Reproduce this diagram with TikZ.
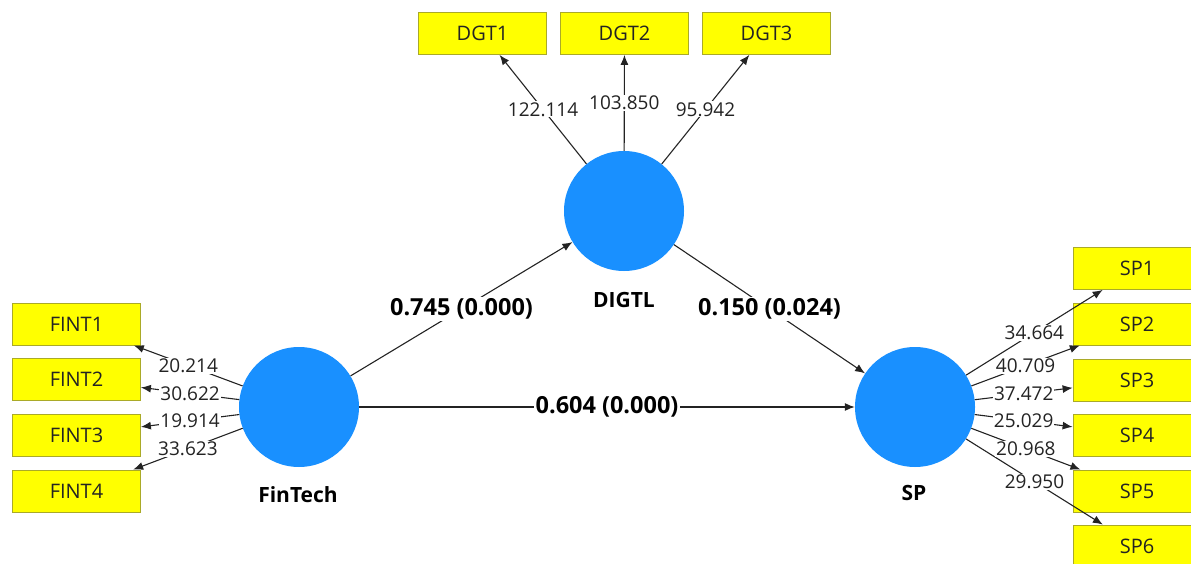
\documentclass[tikz,border=0pt]{standalone}
\usepackage{fontspec}
\setmainfont{Open Sans}
\usetikzlibrary{arrows.meta}
\definecolor{lvblue}{RGB}{25,144,255}
\definecolor{indyel}{RGB}{255,255,0}
\definecolor{indedge}{RGB}{170,170,40}
\definecolor{lntxt}{RGB}{35,35,35}
\tikzset{
  latent/.style={circle, fill=lvblue, minimum size=120pt, inner sep=0pt},
  ind/.style={rectangle, fill=indyel, draw=indedge, line width=0.8pt, minimum width=128pt, minimum height=42pt, inner sep=0pt, font=\fontsize{20}{22}\selectfont, text=lntxt},
  lvname/.style={font=\bfseries\fontsize{21}{23}\selectfont, text=black},
  conn/.style={draw=lntxt, line width=1.1pt, -{Latex[length=10pt,width=8pt]}},
  loadlab/.style={fill=white, inner sep=1pt, font=\fontsize{19}{21}\selectfont, text=lntxt},
  pathlab/.style={fill=white, inner sep=1.5pt, font=\bfseries\fontsize{23.5}{25}\selectfont, text=black}
}
\begin{document}
\begin{tikzpicture}[x=1pt,y=-1pt]
\useasboundingbox (0,0) rectangle (1191,564);
\clip (0,0) rectangle (1191,564);
% latent variables
\node[latent] (fin) at (299,407) {};
\node[latent] (dig) at (624,211) {};
\node[latent] (sp) at (915,407) {};
\node[lvname] (finl) at (298,495) {FinTech};
\node[lvname] (digl) at (624,300) {DIGTL};
\node[lvname] (spl) at (914,493) {SP};
% indicators
\node[ind] (d1) at (482.5,33.5) {DGT1};
\node[ind] (d2) at (624.5,33.5) {DGT2};
\node[ind] (d3) at (766.5,33.5) {DGT3};
\node[ind] (f1) at (76.5,324) {FINT1};
\node[ind] (f2) at (76.5,379.5) {FINT2};
\node[ind] (f3) at (76.5,435) {FINT3};
\node[ind] (f4) at (76.5,491) {FINT4};
\node[ind] (s1) at (1137,268.5) {SP1};
\node[ind] (s2) at (1137,324) {SP2};
\node[ind] (s3) at (1137,380) {SP3};
\node[ind] (s4) at (1137,435) {SP4};
\node[ind] (s5) at (1137,491) {SP5};
\node[ind] (s6) at (1137,546) {SP6};
% connectors
\foreach \a/\b in {dig/d1,dig/d2,dig/d3,fin/f1,fin/f2,fin/f3,fin/f4,sp/s1,sp/s2,sp/s3,sp/s4,sp/s5,sp/s6,fin/dig,dig/sp,fin/sp}
  \draw[conn] (\a) -- (\b);
% labels
\path (dig) -- (d1) node[midway, loadlab] {122.114};
\path (dig) -- (d2) node[midway, loadlab] {103.850};
\path (dig) -- (d3) node[midway, loadlab] {95.942};
\path (fin) -- (f1) node[midway, loadlab] {20.214};
\path (fin) -- (f2) node[midway, loadlab] {30.622};
\path (fin) -- (f3) node[midway, loadlab] {19.914};
\path (fin) -- (f4) node[midway, loadlab] {33.623};
\path (sp) -- (s1) node[midway, loadlab] {34.664};
\path (sp) -- (s2) node[midway, loadlab] {40.709};
\path (sp) -- (s3) node[midway, loadlab] {37.472};
\path (sp) -- (s4) node[midway, loadlab] {25.029};
\path (sp) -- (s5) node[midway, loadlab] {20.968};
\path (sp) -- (s6) node[midway, loadlab] {29.950};
\path (fin) -- (dig) node[midway, pathlab] {0.745 (0.000)};
\path (dig) -- (sp) node[midway, pathlab] {0.150 (0.024)};
\path (fin) -- (sp) node[midway, pathlab] {0.604 (0.000)};
\end{tikzpicture}
\end{document}
